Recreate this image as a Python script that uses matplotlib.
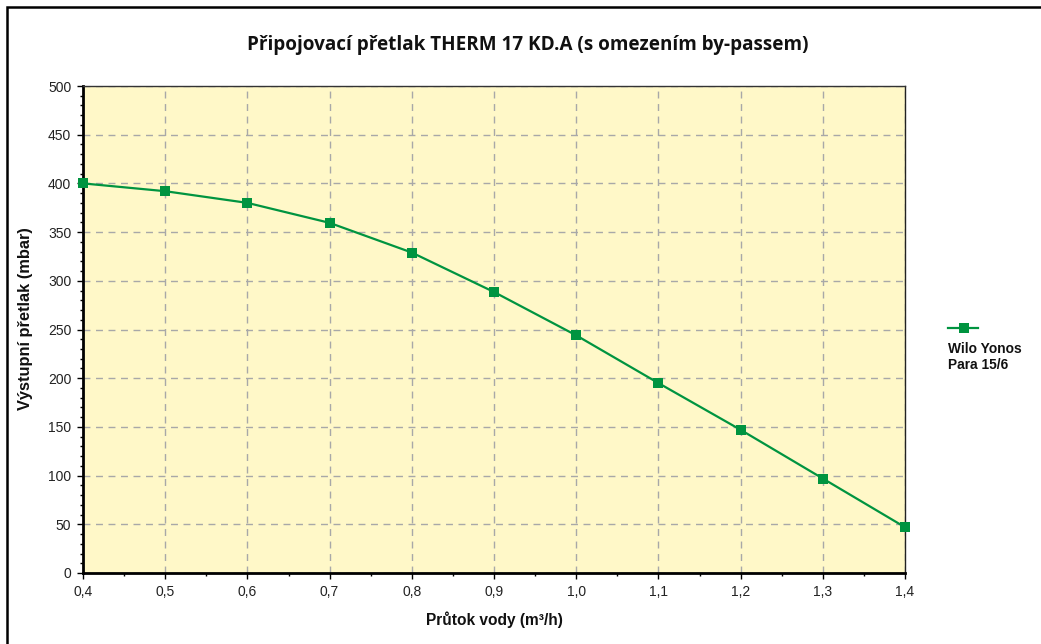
import matplotlib
matplotlib.use("Agg")
import matplotlib.pyplot as plt
from matplotlib.lines import Line2D
from matplotlib.patches import Rectangle
from matplotlib.ticker import MultipleLocator, FuncFormatter

# Data
flow = [0.4, 0.5, 0.6, 0.7, 0.8, 0.9, 1.0, 1.1, 1.2, 1.3, 1.4]
pressure = [400, 392, 380, 359.5, 329, 288.5, 244, 195, 147, 97, 47]
series_name = "Wilo Yonos\nPara 15/6"
title = "Připojovací přetlak THERM 17 KD.A (s omezením by-passem)"
xlabel = "Průtok vody (m³/h)"
ylabel = "Výstupní přetlak (mbar)"

W, H = 1041, 644
fig = plt.figure(figsize=(W / 100, H / 100), dpi=100)
fig.patch.set_facecolor("white")

# outer frame (only left and top visible in the reference)
fig.add_artist(Rectangle((6.5 / W, -0.1), 1.2, 1 - 6.5 / H + 0.1, transform=fig.transFigure,
                         fill=False, edgecolor="black", linewidth=1.8, zorder=0))

left, right, top, bottom = 83, 905, 86, 573
ax = fig.add_axes([left / W, 1 - bottom / H, (right - left) / W, (bottom - top) / H])
ax.set_facecolor("#FFF8C8")

green = "#009440"
ax.plot(flow, pressure, color=green, linewidth=1.6, marker="s", markersize=7.5,
        markeredgewidth=0, zorder=5, clip_on=False)

ax.set_xlim(0.4, 1.4)
ax.set_ylim(0, 500)
ax.xaxis.set_major_locator(MultipleLocator(0.1))
ax.xaxis.set_minor_locator(MultipleLocator(0.05))
ax.yaxis.set_major_locator(MultipleLocator(50))
ax.yaxis.set_minor_locator(MultipleLocator(10))
ax.xaxis.set_major_formatter(FuncFormatter(lambda v, p: f"{v:.1f}".replace(".", ",")))
ax.yaxis.set_major_formatter(FuncFormatter(lambda v, p: f"{v:.0f}"))

ax.grid(True, which="major", color="#A8A8A8", linestyle=(0, (5, 4)), linewidth=1.0)
ax.set_axisbelow(True)

tickfont = "Liberation Sans"
ax.tick_params(which="major", direction="out", length=4, width=1, colors="black",
               labelsize=10, pad=4.5)
ax.tick_params(which="minor", direction="out", length=2.5, width=1, colors="black")
for lbl in ax.get_xticklabels() + ax.get_yticklabels():
    lbl.set_fontfamily(tickfont)
    lbl.set_color("#222222")

ax.spines["left"].set_linewidth(2.0)
ax.spines["bottom"].set_linewidth(2.0)
ax.spines["top"].set_linewidth(1.0)
ax.spines["right"].set_linewidth(1.0)
ax.spines["top"].set_color("#333333")
ax.spines["right"].set_color("#222222")

# axis labels placed in figure pixels
fig.text(494.5 / W, 1 - 620 / H, xlabel, ha="center", va="center", fontfamily=tickfont,
         fontweight="bold", fontsize=11.2, color="#111111")
fig.text(26 / W, 1 - 319 / H, ylabel, ha="center", va="center", rotation=90,
         fontfamily=tickfont, fontweight="bold", fontsize=11.8, color="#111111")

fig.text(527.5 / W, 1 - 45 / H, title, ha="center", va="center",
         fontfamily="Open Sans", fontweight="bold", fontsize=13.6, color="#111111")

# legend
lx0, lx1, ly = 948 / W, 978 / W, 1 - 328 / H
fig.add_artist(Line2D([lx0, lx1], [ly, ly], transform=fig.transFigure, color=green,
                      linewidth=1.6))
fig.add_artist(Line2D([963.5 / W], [ly], transform=fig.transFigure, color=green,
                      marker="s", markersize=7.5, markeredgewidth=0, linestyle="none"))
fig.text(948 / W, 1 - 342 / H, series_name, ha="left", va="top", fontfamily=tickfont,
         fontweight="bold", fontsize=9.9, color="#111111", linespacing=1.2)

fig.savefig("out.png", dpi=100, facecolor="white")
